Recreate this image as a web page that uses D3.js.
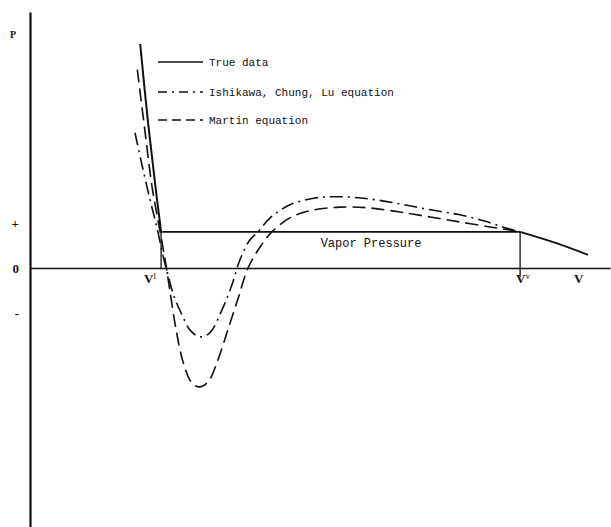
<!DOCTYPE html>
<html lang="en">
<head>
<meta charset="UTF-8">
<title>P-V isotherm</title>
<script src="https://d3js.org/d3.v7.min.js"></script>
<style>
  body { margin: 0; background: #fff; }
  svg text { fill: #111; }
</style>
</head>
<body>
<svg id="chart" width="611" height="527"></svg>
<script>
// Data (arbitrary V / P units)
const vLiquid = 2.26;      // V^l
const vVapor = 8.45;       // V^v
const pSat = 0.80;         // vapor pressure

const trueLiquid = [[1.90, 4.97], [2.03, 3.29], [2.16, 1.84], [2.26, 0.80]];
const trueVapor = [[8.45, 0.80], [9.05, 0.56], [9.62, 0.29]];

const martin = [
  [1.85, 4.40], [1.98, 3.06], [2.10, 1.84], [2.22, 0.96], [2.33, 0.18],
  [2.41, -0.49], [2.52, -1.38], [2.64, -2.09], [2.78, -2.53], [2.91, -2.64],
  [3.07, -2.53], [3.24, -2.04], [3.41, -1.38], [3.59, -0.67], [3.76, 0.00],
  [3.97, 0.47], [4.17, 0.80], [4.48, 1.11], [4.83, 1.27], [5.34, 1.35],
  [5.86, 1.33], [6.38, 1.24], [6.90, 1.13], [7.41, 1.02], [7.93, 0.91],
  [8.28, 0.84], [8.45, 0.80]
];

const ishikawa = [
  [1.81, 3.00], [1.93, 2.29], [2.07, 1.51], [2.19, 0.89], [2.29, 0.29],
  [2.38, -0.16], [2.48, -0.62], [2.62, -1.04], [2.76, -1.38], [2.93, -1.53],
  [3.10, -1.44], [3.31, -0.93], [3.48, -0.38], [3.62, 0.18], [3.79, 0.62],
  [3.93, 0.80], [4.14, 1.11], [4.48, 1.40], [4.91, 1.55], [5.34, 1.58],
  [5.86, 1.53], [6.38, 1.42], [6.90, 1.29], [7.41, 1.18], [7.84, 1.04],
  [8.19, 0.89], [8.45, 0.80]
];

const pTicks = [1, 0, -1];
const pTickLabels = ["+", "0", "-"];
const legendLabels = ["True data", "Ishikawa, Chung, Lu equation", "Martin equation"];

const svg = d3.select("#chart");

const x = d3.scaleLinear().domain([0, 10]).range([30, 610]);
const y = d3.scaleLinear().domain([-5.75, 5.68]).range([527, 12]);

const line = d3.line()
  .x(d => x(d[0]))
  .y(d => y(d[1]))
  .curve(d3.curveCatmullRom);

const ink = "#111";
const dashStyle = "13,6";
const dashDotStyle = "13,5,2,5";

// P axis
const yAxis = svg.append("g")
  .attr("transform", `translate(${x(0)},0)`)
  .call(d3.axisLeft(y)
    .tickValues(pTicks)
    .tickSize(0)
    .tickPadding(11)
    .tickFormat((d, i) => pTickLabels[i]));
yAxis.select(".domain").attr("stroke", ink).attr("stroke-width", 2.2);
yAxis.selectAll("text")
  .attr("font-family", "Liberation Serif, serif")
  .attr("font-weight", "bold")
  .attr("font-size", 13)
  .attr("fill", ink);

svg.append("text")
  .attr("x", x(0) - 17)
  .attr("y", y(5.1))
  .attr("text-anchor", "middle")
  .attr("font-family", "Liberation Serif, serif")
  .attr("font-weight", "bold")
  .attr("font-size", 10)
  .text("P");

// V axis
const xAxis = svg.append("g")
  .attr("transform", `translate(0,${y(0)})`)
  .call(d3.axisBottom(x).tickValues([]).tickSizeOuter(0));
xAxis.select(".domain").attr("stroke", ink).attr("stroke-width", 1.5);

// vapor pressure tie line and verticals
svg.append("line")
  .attr("x1", x(vLiquid)).attr("x2", x(vVapor))
  .attr("y1", y(pSat)).attr("y2", y(pSat))
  .attr("stroke", ink).attr("stroke-width", 1.6);
svg.append("line")
  .attr("x1", x(vLiquid)).attr("x2", x(vLiquid))
  .attr("y1", y(pSat)).attr("y2", y(0))
  .attr("stroke", ink).attr("stroke-width", 1.3);
svg.append("line")
  .attr("x1", x(vVapor)).attr("x2", x(vVapor))
  .attr("y1", y(pSat)).attr("y2", y(-0.2))
  .attr("stroke", ink).attr("stroke-width", 1.3);

svg.append("text")
  .attr("x", x(5.88))
  .attr("y", y(pSat) + 15)
  .attr("text-anchor", "middle")
  .attr("font-family", "Liberation Mono, monospace")
  .attr("font-size", 12)
  .text("Vapor Pressure");

// V labels
function vLabel(xv, sup, dx) {
  const t = svg.append("text")
    .attr("x", x(xv) + dx)
    .attr("y", y(0) + 15)
    .attr("font-family", "Liberation Serif, serif")
    .attr("font-weight", "bold")
    .attr("font-size", 13)
    .text("V");
  if (sup) {
    t.append("tspan")
      .attr("dy", -4)
      .attr("font-size", 9)
      .attr("font-weight", "normal")
      .text(sup);
  }
}
vLabel(vLiquid, "l", -17);
vLabel(vVapor, "v", -4);
vLabel(9.45, null, -4);

// curves
svg.append("path").datum(trueLiquid)
  .attr("d", line).attr("fill", "none")
  .attr("stroke", ink).attr("stroke-width", 2);
svg.append("path").datum(trueVapor)
  .attr("d", line).attr("fill", "none")
  .attr("stroke", ink).attr("stroke-width", 1.8);

svg.append("path").datum(martin)
  .attr("d", line).attr("fill", "none")
  .attr("stroke", ink).attr("stroke-width", 1.6)
  .attr("stroke-dasharray", dashStyle);

svg.append("path").datum(ishikawa)
  .attr("d", line).attr("fill", "none")
  .attr("stroke", ink).attr("stroke-width", 1.6)
  .attr("stroke-dasharray", dashDotStyle);

// legend
const legendStyles = [null, "9,5,2,5", "9,5"];
const legendY = [62, 92, 120];
legendLabels.forEach((label, i) => {
  svg.append("line")
    .attr("x1", 158).attr("x2", 203)
    .attr("y1", legendY[i]).attr("y2", legendY[i])
    .attr("stroke", ink).attr("stroke-width", 1.3)
    .attr("stroke-dasharray", legendStyles[i]);
  svg.append("text")
    .attr("x", 209)
    .attr("y", legendY[i] + 4)
    .attr("font-family", "Liberation Mono, monospace")
    .attr("font-size", 11)
    .text(label);
});
</script>
</body>
</html>
